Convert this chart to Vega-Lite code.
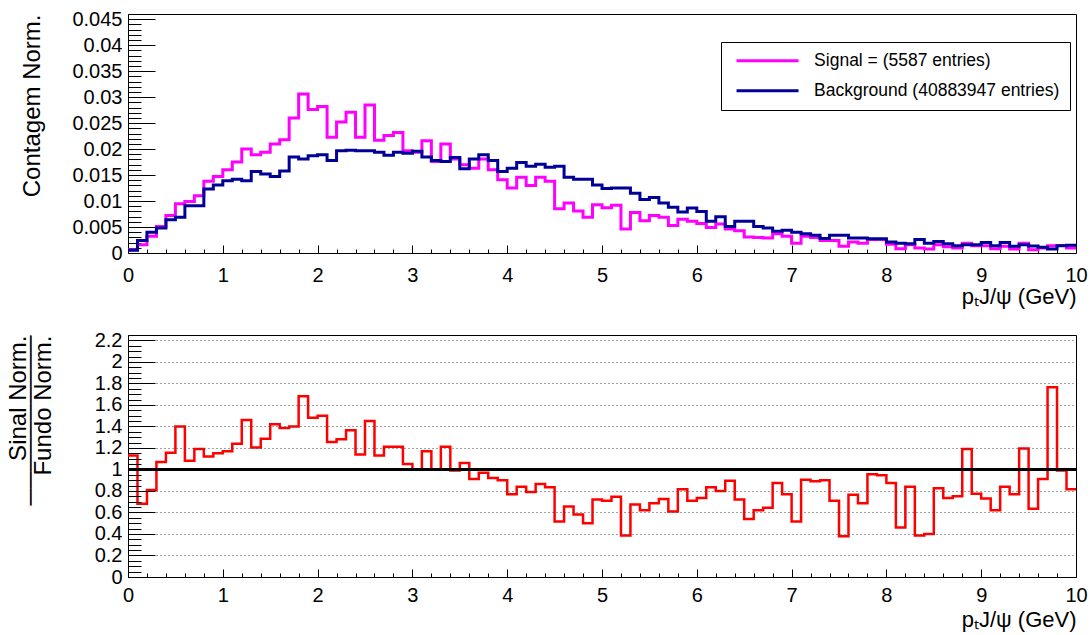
{
  "$schema": "https://vega.github.io/schema/vega-lite/v6.json",
  "background": "white",
  "padding": {"left": 5, "top": 3, "right": 5, "bottom": 5},
  "spacing": 16,
  "config": {
    "font": "Liberation Sans",
    "view": {"stroke": "black", "strokeWidth": 1},
    "axis": {
      "domain": false,
      "grid": false,
      "tickColor": "black",
      "tickWidth": 1,
      "labelFont": "Liberation Sans",
      "labelFontSize": 20,
      "labelColor": "black",
      "titleFont": "Liberation Sans",
      "titleFontWeight": "normal",
      "titleColor": "black",
      "labelFlush": false,
      "labelOverlap": false
    }
  },
  "datasets": {
    "h": [
      {"a":0,"b":0.1,"sig":0.00064,"bkg":0.00055,"r":1.13},
      {"a":0.1,"b":0.2,"sig":0.0016,"bkg":0.0024,"r":0.68},
      {"a":0.2,"b":0.3,"sig":0.0032,"bkg":0.0040,"r":0.81},
      {"a":0.3,"b":0.4,"sig":0.0051,"bkg":0.0048,"r":1.07},
      {"a":0.4,"b":0.5,"sig":0.0072,"bkg":0.0064,"r":1.155},
      {"a":0.5,"b":0.6,"sig":0.0095,"bkg":0.0069,"r":1.40},
      {"a":0.6,"b":0.7,"sig":0.0099,"bkg":0.0091,"r":1.08},
      {"a":0.7,"b":0.8,"sig":0.0110,"bkg":0.0091,"r":1.19},
      {"a":0.8,"b":0.9,"sig":0.0138,"bkg":0.0123,"r":1.12},
      {"a":0.9,"b":1,"sig":0.0147,"bkg":0.0131,"r":1.15},
      {"a":1,"b":1.1,"sig":0.0160,"bkg":0.0139,"r":1.17},
      {"a":1.1,"b":1.2,"sig":0.0175,"bkg":0.0142,"r":1.24},
      {"a":1.2,"b":1.3,"sig":0.0200,"bkg":0.0139,"r":1.46},
      {"a":1.3,"b":1.4,"sig":0.0189,"bkg":0.0157,"r":1.205},
      {"a":1.4,"b":1.5,"sig":0.0194,"bkg":0.0152,"r":1.285},
      {"a":1.5,"b":1.6,"sig":0.0210,"bkg":0.0147,"r":1.42},
      {"a":1.6,"b":1.7,"sig":0.0218,"bkg":0.0158,"r":1.385},
      {"a":1.7,"b":1.8,"sig":0.0260,"bkg":0.0185,"r":1.40},
      {"a":1.8,"b":1.9,"sig":0.0306,"bkg":0.0181,"r":1.68},
      {"a":1.9,"b":2,"sig":0.0276,"bkg":0.0187,"r":1.48},
      {"a":2,"b":2.1,"sig":0.0282,"bkg":0.0189,"r":1.50},
      {"a":2.1,"b":2.2,"sig":0.0223,"bkg":0.0178,"r":1.255},
      {"a":2.2,"b":2.3,"sig":0.0252,"bkg":0.0197,"r":1.28},
      {"a":2.3,"b":2.4,"sig":0.0271,"bkg":0.0198,"r":1.365},
      {"a":2.4,"b":2.5,"sig":0.0223,"bkg":0.0197,"r":1.14},
      {"a":2.5,"b":2.6,"sig":0.0285,"bkg":0.0197,"r":1.45},
      {"a":2.6,"b":2.7,"sig":0.0217,"bkg":0.0194,"r":1.13},
      {"a":2.7,"b":2.8,"sig":0.0226,"bkg":0.0188,"r":1.21},
      {"a":2.8,"b":2.9,"sig":0.0232,"bkg":0.0194,"r":1.21},
      {"a":2.9,"b":3,"sig":0.0197,"bkg":0.0192,"r":1.05},
      {"a":3,"b":3.1,"sig":0.0194,"bkg":0.0196,"r":1.0},
      {"a":3.1,"b":3.2,"sig":0.0216,"bkg":0.0185,"r":1.17},
      {"a":3.2,"b":3.3,"sig":0.0176,"bkg":0.0178,"r":1.0},
      {"a":3.3,"b":3.4,"sig":0.0210,"bkg":0.0176,"r":1.21},
      {"a":3.4,"b":3.5,"sig":0.0181,"bkg":0.0184,"r":0.99},
      {"a":3.5,"b":3.6,"sig":0.0170,"bkg":0.0162,"r":1.06},
      {"a":3.6,"b":3.7,"sig":0.0163,"bkg":0.0181,"r":0.91},
      {"a":3.7,"b":3.8,"sig":0.0181,"bkg":0.0189,"r":0.97},
      {"a":3.8,"b":3.9,"sig":0.0160,"bkg":0.0178,"r":0.92},
      {"a":3.9,"b":4,"sig":0.0141,"bkg":0.0157,"r":0.90},
      {"a":4,"b":4.1,"sig":0.0125,"bkg":0.0163,"r":0.77},
      {"a":4.1,"b":4.2,"sig":0.0146,"bkg":0.0174,"r":0.84},
      {"a":4.2,"b":4.3,"sig":0.0130,"bkg":0.0167,"r":0.79},
      {"a":4.3,"b":4.4,"sig":0.0146,"bkg":0.0171,"r":0.865},
      {"a":4.4,"b":4.5,"sig":0.0138,"bkg":0.0165,"r":0.835},
      {"a":4.5,"b":4.6,"sig":0.0085,"bkg":0.0167,"r":0.515},
      {"a":4.6,"b":4.7,"sig":0.0096,"bkg":0.0146,"r":0.655},
      {"a":4.7,"b":4.8,"sig":0.0081,"bkg":0.0142,"r":0.58},
      {"a":4.8,"b":4.9,"sig":0.0069,"bkg":0.0142,"r":0.50},
      {"a":4.9,"b":5,"sig":0.0093,"bkg":0.0131,"r":0.72},
      {"a":5,"b":5.1,"sig":0.0087,"bkg":0.0124,"r":0.71},
      {"a":5.1,"b":5.2,"sig":0.0092,"bkg":0.0125,"r":0.745},
      {"a":5.2,"b":5.3,"sig":0.0046,"bkg":0.0125,"r":0.385},
      {"a":5.3,"b":5.4,"sig":0.0078,"bkg":0.0115,"r":0.675},
      {"a":5.4,"b":5.5,"sig":0.0062,"bkg":0.0103,"r":0.62},
      {"a":5.5,"b":5.6,"sig":0.0072,"bkg":0.0107,"r":0.685},
      {"a":5.6,"b":5.7,"sig":0.0069,"bkg":0.0096,"r":0.725},
      {"a":5.7,"b":5.8,"sig":0.0053,"bkg":0.0088,"r":0.61},
      {"a":5.8,"b":5.9,"sig":0.0065,"bkg":0.0079,"r":0.815},
      {"a":5.9,"b":6,"sig":0.0061,"bkg":0.00865,"r":0.71},
      {"a":6,"b":6.1,"sig":0.0057,"bkg":0.0080,"r":0.735},
      {"a":6.1,"b":6.2,"sig":0.0049,"bkg":0.0061,"r":0.835},
      {"a":6.2,"b":6.3,"sig":0.0056,"bkg":0.0070,"r":0.80},
      {"a":6.3,"b":6.4,"sig":0.0046,"bkg":0.0051,"r":0.895},
      {"a":6.4,"b":6.5,"sig":0.0043,"bkg":0.0061,"r":0.72},
      {"a":6.5,"b":6.6,"sig":0.0031,"bkg":0.0061,"r":0.54},
      {"a":6.6,"b":6.7,"sig":0.0030,"bkg":0.0051,"r":0.62},
      {"a":6.7,"b":6.8,"sig":0.0029,"bkg":0.0048,"r":0.645},
      {"a":6.8,"b":6.9,"sig":0.0037,"bkg":0.0042,"r":0.875},
      {"a":6.9,"b":7,"sig":0.0032,"bkg":0.0044,"r":0.77},
      {"a":7,"b":7.1,"sig":0.0019,"bkg":0.0040,"r":0.515},
      {"a":7.1,"b":7.2,"sig":0.0032,"bkg":0.0037,"r":0.905},
      {"a":7.2,"b":7.3,"sig":0.0030,"bkg":0.0034,"r":0.89},
      {"a":7.3,"b":7.4,"sig":0.0024,"bkg":0.0028,"r":0.90},
      {"a":7.4,"b":7.5,"sig":0.0024,"bkg":0.0034,"r":0.71},
      {"a":7.5,"b":7.6,"sig":0.0013,"bkg":0.0034,"r":0.38},
      {"a":7.6,"b":7.7,"sig":0.0021,"bkg":0.0029,"r":0.765},
      {"a":7.7,"b":7.8,"sig":0.0019,"bkg":0.0029,"r":0.685},
      {"a":7.8,"b":7.9,"sig":0.0026,"bkg":0.00275,"r":0.955},
      {"a":7.9,"b":8,"sig":0.0026,"bkg":0.00275,"r":0.945},
      {"a":8,"b":8.1,"sig":0.0017,"bkg":0.0021,"r":0.875},
      {"a":8.1,"b":8.2,"sig":0.0008,"bkg":0.0019,"r":0.46},
      {"a":8.2,"b":8.3,"sig":0.0016,"bkg":0.0018,"r":0.84},
      {"a":8.3,"b":8.4,"sig":0.00096,"bkg":0.0026,"r":0.385},
      {"a":8.4,"b":8.5,"sig":0.00077,"bkg":0.0019,"r":0.40},
      {"a":8.5,"b":8.6,"sig":0.0016,"bkg":0.0022,"r":0.825},
      {"a":8.6,"b":8.7,"sig":0.0012,"bkg":0.0018,"r":0.735},
      {"a":8.7,"b":8.8,"sig":0.00096,"bkg":0.0014,"r":0.75},
      {"a":8.8,"b":8.9,"sig":0.0019,"bkg":0.0016,"r":1.19},
      {"a":8.9,"b":9,"sig":0.0014,"bkg":0.0016,"r":0.775},
      {"a":9,"b":9.1,"sig":0.0014,"bkg":0.0020,"r":0.73},
      {"a":9.1,"b":9.2,"sig":0.00083,"bkg":0.0014,"r":0.62},
      {"a":9.2,"b":9.3,"sig":0.0013,"bkg":0.0020,"r":0.84},
      {"a":9.3,"b":9.4,"sig":0.00077,"bkg":0.0013,"r":0.77},
      {"a":9.4,"b":9.5,"sig":0.0019,"bkg":0.0016,"r":1.195},
      {"a":9.5,"b":9.6,"sig":0.00064,"bkg":0.00135,"r":0.635},
      {"a":9.6,"b":9.7,"sig":0.00096,"bkg":0.0011,"r":0.91},
      {"a":9.7,"b":9.8,"sig":0.0014,"bkg":0.00077,"r":1.765},
      {"a":9.8,"b":9.9,"sig":0.00145,"bkg":0.0014,"r":0.99},
      {"a":9.9,"b":10,"sig":0.00096,"bkg":0.0015,"r":0.815}
    ]
  },
  "vconcat": [
    {
      "width": 948,
      "height": 239,
      "data": {"name": "h"},
      "transform": [
        {"fold": ["sig", "bkg"], "as": ["s", "v"]},
        {"fold": ["a", "b"], "as": ["e", "x"]}
      ],
      "mark": {"type": "line", "strokeWidth": 3, "clip": true},
      "encoding": {
        "x": {
          "field": "x", "type": "quantitative",
          "scale": {"domain": [0, 10], "nice": false, "zero": false},
          "axis": {
            "values": [0,0.2,0.4,0.6,0.8,1,1.2,1.4,1.6,1.8,2,2.2,2.4,2.6,2.8,3,3.2,3.4,3.6,3.8,4,4.2,4.4,4.6,4.8,5,5.2,5.4,5.6,5.8,6,6.2,6.4,6.6,6.8,7,7.2,7.4,7.6,7.8,8,8.2,8.4,8.6,8.8,9,9.2,9.4,9.6,9.8,10],
            "labelExpr": "abs(datum.value - round(datum.value)) < 0.001 ? format(datum.value, 'd') : ''",
            "labelOverlap": false,
            "tickSize": {"condition": {"test": "abs(datum.value - round(datum.value)) < 0.001", "value": -8}, "value": -4},
            "labelPadding": 20,
            "title": "pₜJ/ψ (GeV)",
            "titleFontSize": 22,
            "titleAnchor": "end",
            "titlePadding": -3
          }
        },
        "y": {
          "field": "v", "type": "quantitative",
          "scale": {"domain": [0, 0.046], "nice": false},
          "axis": {
            "values": [0,0.001,0.002,0.003,0.004,0.005,0.006,0.007,0.008,0.009,0.01,0.011,0.012,0.013,0.014,0.015,0.016,0.017,0.018,0.019,0.02,0.021,0.022,0.023,0.024,0.025,0.026,0.027,0.028,0.029,0.03,0.031,0.032,0.033,0.034,0.035,0.036,0.037,0.038,0.039,0.04,0.041,0.042,0.043,0.044,0.045,0.046],
            "labelExpr": "abs(datum.value*200 - round(datum.value*200)) < 0.01 ? format(datum.value, '~g') : ''",
            "labelOverlap": false,
            "tickSize": {"condition": {"test": "abs(datum.value*200 - round(datum.value*200)) < 0.01", "value": -27}, "value": -13},
            "labelPadding": 33,
            "title": "Contagem Norm.",
            "titleFontSize": 24,
            "titleAnchor": "end",
            "titlePadding": 27
          }
        },
        "color": {
          "field": "s", "type": "nominal",
          "scale": {"domain": ["sig", "bkg"], "range": ["#ff00ff", "#000099"]},
          "legend": {
            "orient": "none",
            "legendX": 593,
            "legendY": 28,
            "title": null,
            "symbolType": "M-0.52,0H9.48",
            "symbolSize": 153.8,
            "symbolStrokeWidth": 3,
            "labelFont": "Liberation Sans",
            "labelFontSize": 17.5,
            "labelColor": "black",
            "labelLimit": 400,
            "labelOffset": 65.6,
            "padding": 10,
            "rowPadding": 11,
            "strokeColor": "black",
            "fillColor": "white",
            "labelExpr": "datum.value == 'sig' ? 'Signal = (5587 entries)' : 'Background (40883947 entries)'"
          }
        },
        "order": [
          {"field": "x", "type": "quantitative"},
          {"field": "a", "type": "quantitative"}
        ]
      }
    },
    {
      "width": 948,
      "height": 242,
      "data": {"name": "h"},
      "transform": [
        {"fold": ["a", "b"], "as": ["e", "x"]}
      ],
      "mark": {"type": "line", "strokeWidth": 2.5, "color": "#ff0000", "clip": true},
      "encoding": {
        "x": {
          "field": "x", "type": "quantitative",
          "scale": {"domain": [0, 10], "nice": false, "zero": false},
          "axis": {
            "values": [0,0.2,0.4,0.6,0.8,1,1.2,1.4,1.6,1.8,2,2.2,2.4,2.6,2.8,3,3.2,3.4,3.6,3.8,4,4.2,4.4,4.6,4.8,5,5.2,5.4,5.6,5.8,6,6.2,6.4,6.6,6.8,7,7.2,7.4,7.6,7.8,8,8.2,8.4,8.6,8.8,9,9.2,9.4,9.6,9.8,10],
            "labelExpr": "abs(datum.value - round(datum.value)) < 0.001 ? format(datum.value, 'd') : ''",
            "labelOverlap": false,
            "tickSize": {"condition": {"test": "abs(datum.value - round(datum.value)) < 0.001", "value": -8}, "value": -4},
            "labelPadding": 16,
            "title": "pₜJ/ψ (GeV)",
            "titleFontSize": 22,
            "titleAnchor": "end",
            "titlePadding": 0
          }
        },
        "y": {
          "field": "r", "type": "quantitative",
          "scale": {"domain": [0, 2.25], "nice": false},
          "axis": {
            "values": [0,0.05,0.1,0.15,0.2,0.25,0.3,0.35,0.4,0.45,0.5,0.55,0.6,0.65,0.7,0.75,0.8,0.85,0.9,0.95,1,1.05,1.1,1.15,1.2,1.25,1.3,1.35,1.4,1.45,1.5,1.55,1.6,1.65,1.7,1.75,1.8,1.85,1.9,1.95,2,2.05,2.1,2.15,2.2,2.25],
            "labelExpr": "abs(datum.value*5 - round(datum.value*5)) < 0.01 ? format(datum.value, '~g') : ''",
            "labelOverlap": false,
            "tickSize": {"condition": {"test": "abs(datum.value*5 - round(datum.value*5)) < 0.01", "value": -27}, "value": -13},
            "labelPadding": 33,
            "grid": true,
            "zindex": 1,
            "gridColor": {"condition": {"test": "abs(datum.value - 1) < 0.001", "value": "black"}, "value": "#444444"},
            "gridDash": {"condition": {"test": "abs(datum.value - 1) < 0.001", "value": [1, 0]}, "value": [1, 3]},
            "gridWidth": {"condition": {"test": "abs(datum.value - 1) < 0.001", "value": 3}, "value": 1},
            "gridOpacity": {"condition": {"test": "abs(datum.value*5 - round(datum.value*5)) < 0.01 && datum.value > 0.01", "value": 1}, "value": 0},
            "title": ["Sinal Norm.", "──────────", "Fundo Norm."],
            "titleFontSize": 24,
            "titleLineHeight": 12.5,
            "titleAnchor": "end",
            "titlePadding": 39
          }
        },
        "order": [
          {"field": "x", "type": "quantitative"},
          {"field": "a", "type": "quantitative"}
        ]
      }
    }
  ]
}
